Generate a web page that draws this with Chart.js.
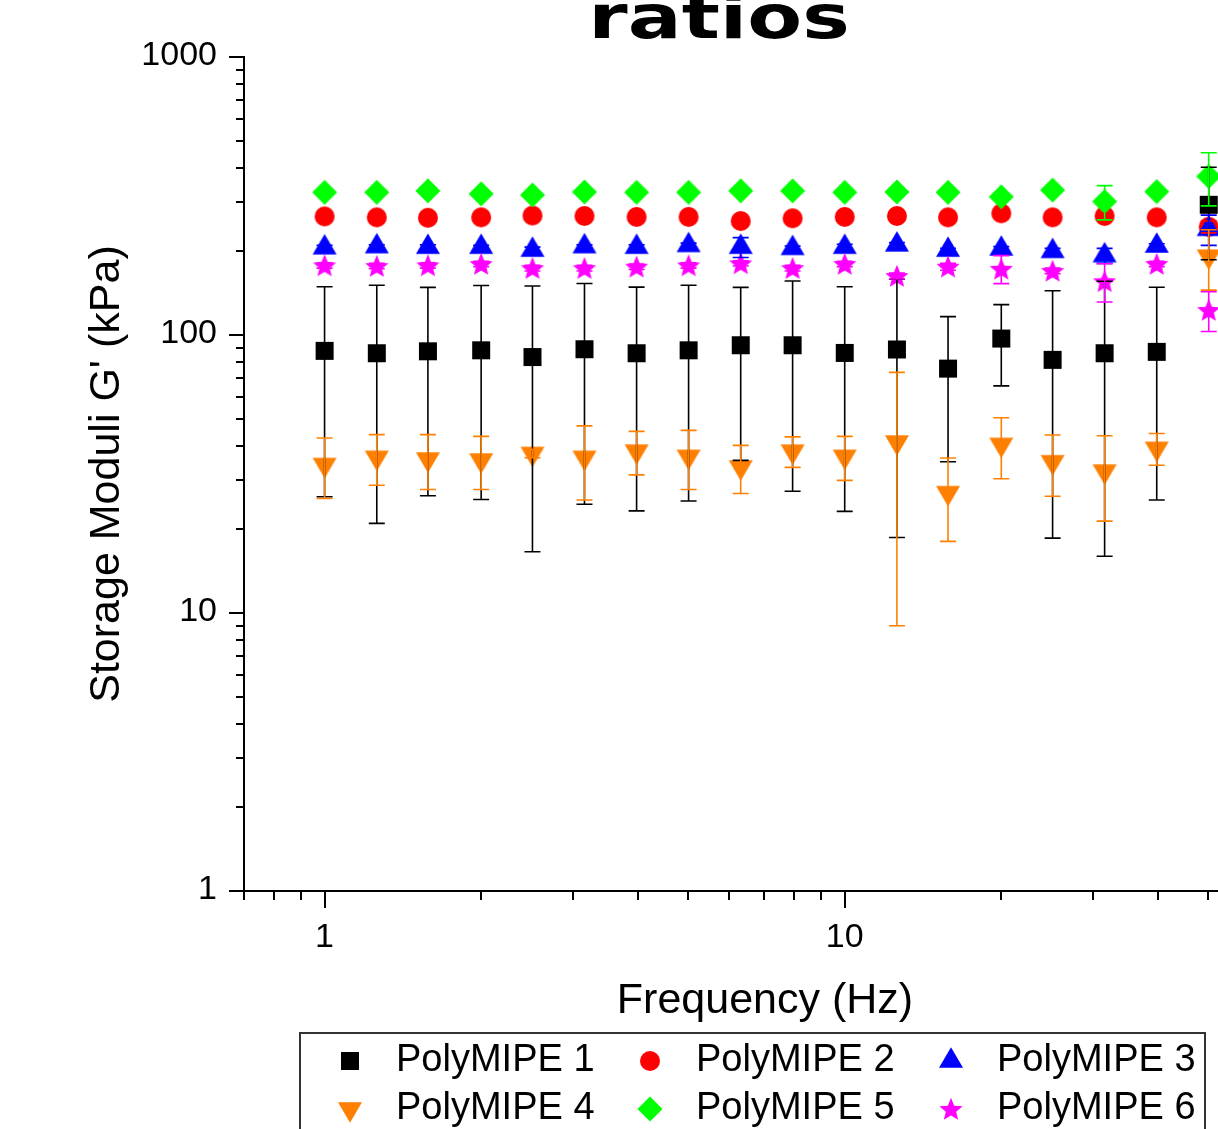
<!DOCTYPE html>
<html>
<head>
<meta charset="utf-8">
<script src="https://cdn.jsdelivr.net/npm/chart.js@4"></script>
<style>
html, body { margin: 0; padding: 0; background: #fff; overflow: hidden; }
</style>
</head>
<body>
<canvas id="myChart" width="1218" height="1129"></canvas>
<script>
// frequencies (Hz)
const freq = [1, 1.26, 1.58, 2, 2.51, 3.16, 3.98, 5.01, 6.31, 7.94, 10, 12.6, 15.8, 20, 25.1, 31.6, 39.8, 50.1];

// storage modulus G' (kPa) and standard deviation
const poly1 = [87.7, 86.0, 87.4, 88.1, 83.3, 88.9, 86.0, 88.1, 91.9, 91.9, 86.2, 88.7, 75.7, 97.1, 81.4, 86.0, 87.0, 294];
const poly1Err = [61.5, 65, 61, 62.5, 66.7, 64.3, 62.7, 62.8, 56.5, 64.5, 63, 70, 40.7, 31.5, 62.8, 70, 61.5, 107.5];
const poly2 = [267, 265, 264, 265, 269, 268, 266, 266, 257, 263, 266, 268, 265, 274, 265, 268, 265, 245];
const poly2Err = [5, 5, 4, 5, 5, 4, 5, 4, 6, 5, 5, 4, 5, 6, 7, 6, 5, 12];
const poly3 = [206, 208, 207, 207, 202, 208, 207, 210, 207, 205, 207, 211, 202, 204, 200, 193, 209, 240];
const poly3Err = [4, 3, 4, 3, 5, 3, 4, 4, 17, 4, 5, 4, 3, 4, 5, 12, 4, 30];
const poly4 = [34.2, 36.3, 35.8, 35.5, 37.5, 36.3, 38.2, 36.6, 33.5, 38.2, 36.6, 41.2, 27.1, 40.4, 35.0, 32.4, 39.1, 192];
const poly4Err = [8.4, 7.5, 8.0, 7.7, 1.3, 10.8, 6.8, 8.8, 6.6, 4.8, 6.6, 32.2, 9.0, 10.0, 8.7, 11.0, 5.1, 47];
const poly5 = [326, 326, 330, 322, 319, 327, 326, 326, 330, 330, 326, 327, 326, 314, 332, 302, 328, 372];
const poly5Err = [5, 5, 5, 5, 5, 5, 5, 5, 5, 5, 5, 5, 5, 8, 6, 42.5, 5, 80.5];
const poly6 = [178, 177, 178, 180, 174, 174, 176, 178, 181, 174, 180, 163, 176, 173, 170, 156, 180, 123];
const poly6Err = [4, 4, 4, 4, 4, 4, 4, 4, 4, 4, 4, 4, 5, 20, 4, 24.5, 4, 20];

const seriesNames = ['PolyMIPE 1', 'PolyMIPE 2', 'PolyMIPE 3', 'PolyMIPE 4', 'PolyMIPE 5', 'PolyMIPE 6'];
const seriesColors = ['#000000', '#ff0000', '#0000ff', '#ff8000', '#00ff00', '#ff00ff'];
const seriesShapes = ['square', 'circle', 'up', 'down', 'diamond', 'star'];
const seriesValues = [poly1, poly2, poly3, poly4, poly5, poly6];
const seriesErrors = [poly1Err, poly2Err, poly3Err, poly4Err, poly5Err, poly6Err];

const xTickValues = [1, 10];
const xTickLabels = ['1', '10'];
const yTickValues = [1, 10, 100, 1000];
const yTickLabels = ['1', '10', '100', '1000'];

// marker glyphs, centred on the point (triangles on their centroid)
function makeMarker(kind, color) {
    const c = document.createElement('canvas');
    c.width = 32; c.height = 32;
    const g = c.getContext('2d');
    g.fillStyle = color;
    g.translate(16, 16);
    g.beginPath();
    if (kind === 'square') g.rect(-9, -9, 18, 18);
    else if (kind === 'circle') g.arc(0, 0, 10, 0, Math.PI * 2);
    else if (kind === 'up') { g.moveTo(0, -13.7); g.lineTo(12, 6.8); g.lineTo(-12, 6.8); }
    else if (kind === 'down') { g.moveTo(0, 13.7); g.lineTo(12, -6.8); g.lineTo(-12, -6.8); }
    else if (kind === 'diamond') { g.moveTo(0, -12.5); g.lineTo(12.5, 0); g.lineTo(0, 12.5); g.lineTo(-12.5, 0); }
    else if (kind === 'star') {
        for (let k = 0; k < 10; k++) {
            const r = k % 2 ? 5.4 : 12.2;
            const a = -Math.PI / 2 + k * Math.PI / 5;
            g.lineTo(r * Math.cos(a), r * Math.sin(a) + 1);
        }
    }
    g.closePath();
    g.fill();
    return c;
}
const markers = seriesShapes.map((s, i) => makeMarker(s, seriesColors[i]));

const FONT = '"Liberation Sans", Arial, sans-serif';

const axesPlugin = {
    id: 'axesDeco',
    afterDatasetsDraw(chart) {
        const ctx = chart.ctx, xs = chart.scales.x, ys = chart.scales.y, a = chart.chartArea;
        // error bars
        ctx.save();
        ctx.beginPath();
        ctx.rect(a.left, a.top - 20, a.right - a.left, a.bottom - a.top + 20);
        ctx.clip();
        ctx.lineWidth = 1.6;
        seriesValues.forEach((vals, s) => {
            ctx.strokeStyle = seriesColors[s];
            freq.forEach((f, i) => {
                const x = xs.getPixelForValue(f);
                const yt = ys.getPixelForValue(vals[i] + seriesErrors[s][i]);
                const yb = ys.getPixelForValue(vals[i] - seriesErrors[s][i]);
                ctx.beginPath();
                ctx.moveTo(x, yt); ctx.lineTo(x, yb);
                ctx.moveTo(x - 8, yt); ctx.lineTo(x + 8, yt);
                ctx.moveTo(x - 8, yb); ctx.lineTo(x + 8, yb);
                ctx.stroke();
            });
        });
        ctx.restore();
    },
    afterDraw(chart) {
        const ctx = chart.ctx, xs = chart.scales.x, ys = chart.scales.y, a = chart.chartArea;
        ctx.save();
        ctx.strokeStyle = '#000';
        ctx.fillStyle = '#000';
        ctx.lineWidth = 2;

        // y ticks
        for (let d = 1; d <= 1000; d *= 10) {
            for (let k = 1; k <= (d === 1000 ? 1 : 9); k++) {
                const y = Math.round(ys.getPixelForValue(k * d));
                const len = k === 1 ? 15 : 8;
                ctx.beginPath(); ctx.moveTo(a.left - len, y); ctx.lineTo(a.left, y); ctx.stroke();
            }
        }
        // x ticks
        for (let d = 0.1; d <= 10; d *= 10) {
            for (let k = 1; k <= 9; k++) {
                const v = k * d;
                if (v < 0.69 || v > xs.max) continue;
                const x = Math.round(xs.getPixelForValue(v));
                const len = k === 1 ? 17 : 9;
                ctx.beginPath(); ctx.moveTo(x, a.bottom); ctx.lineTo(x, a.bottom + len); ctx.stroke();
            }
        }

        ctx.font = '34px ' + FONT;
        ctx.textBaseline = 'middle';
        ctx.textAlign = 'right';
        yTickValues.forEach((v, i) => ctx.fillText(yTickLabels[i], 217, ys.getPixelForValue(v) - 1));
        ctx.textAlign = 'center';
        xTickValues.forEach((v, i) => ctx.fillText(xTickLabels[i], xs.getPixelForValue(v), 938));

        // axis titles
        ctx.font = '43px ' + FONT;
        ctx.fillText('Frequency (Hz)', 765, 1001);
        ctx.save();
        ctx.translate(107, 474);
        ctx.rotate(-Math.PI / 2);
        ctx.fillText("Storage Moduli G' (kPa)", 0, 0);
        ctx.restore();

        // title (cut off at top)
        ctx.save();
        ctx.font = 'bold 61px "DejaVu Sans", sans-serif';
        ctx.textBaseline = 'alphabetic';
        ctx.translate(719, 38);
        ctx.scale(1.31, 1);
        ctx.fillText('ratios', 0, 0);
        ctx.restore();

        // legend
        ctx.strokeStyle = '#333';
        ctx.lineWidth = 2;
        ctx.strokeRect(300, 1033, 905, 130);
        ctx.font = '38px ' + FONT;
        ctx.textAlign = 'left';
        const colX = [350, 650, 951];
        const rowY = [1061, 1109];
        seriesNames.forEach((n, i) => {
            const mx = colX[i % 3], my = rowY[Math.floor(i / 3)];
            ctx.drawImage(markers[i], mx - 16, my - 16);
            ctx.fillText(n, mx + 46, my);
        });
        ctx.restore();
    }
};

const datasets = seriesValues.map((vals, s) => ({
    label: seriesNames[s],
    data: freq.map((f, i) => ({ x: f, y: vals[i] })),
    pointStyle: markers[s],
    pointRadius: 12,
    showLine: false,
    order: 5 - s
}));

const ctx = document.getElementById('myChart');
new Chart(ctx, {
    type: 'scatter',
    data: { datasets: datasets },
    options: {
        responsive: false,
        animation: false,
        layout: { autoPadding: false, padding: { top: 57, left: 0, right: 0, bottom: 0 } },
        scales: {
            x: {
                type: 'logarithmic', min: 0.7, max: 52.2,
                grid: { display: false }, ticks: { display: false },
                border: { color: '#000', width: 2 },
                afterFit: (s) => { s.height = 238; }
            },
            y: {
                type: 'logarithmic', min: 1, max: 1000,
                grid: { display: false }, ticks: { display: false },
                border: { color: '#000', width: 2 },
                afterFit: (s) => { s.width = 244; }
            }
        },
        plugins: {
            legend: { display: false },
            tooltip: { enabled: false }
        }
    },
    plugins: [axesPlugin]
});
</script>
</body>
</html>
